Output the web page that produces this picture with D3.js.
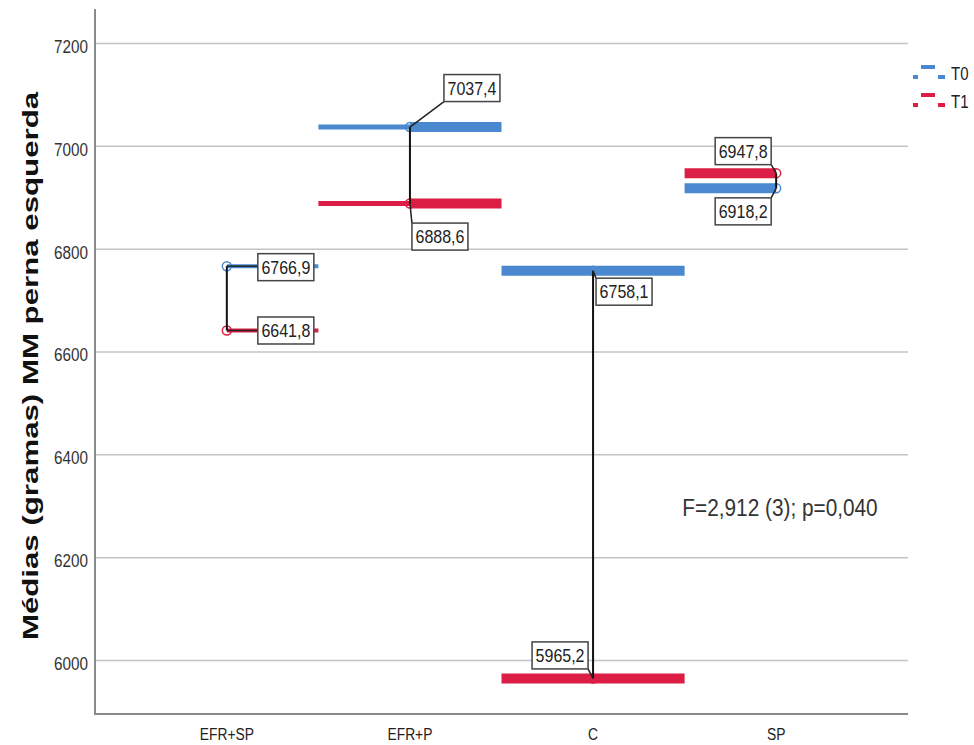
<!DOCTYPE html>
<html>
<head>
<meta charset="utf-8">
<script src="https://cdn.jsdelivr.net/npm/d3@7"></script>
<style>
  html, body { margin: 0; padding: 0; background: #fff; }
  svg { display: block; font-family: "Liberation Sans", Arial, sans-serif; }
</style>
</head>
<body>
<svg id="chart" width="974" height="745"></svg>
<script>
// Group means of left-leg lean mass (grams) at two time points
const categories = ["EFR+SP", "EFR+P", "C", "SP"];
const t0Values = [6766.9, 7037.4, 6758.1, 6918.2];
const t1Values = [6641.8, 6888.6, 5965.2, 6947.8];
const seriesNames = ["T0", "T1"];
const yTicks = [6000, 6200, 6400, 6600, 6800, 7000, 7200];
const yTitle = "Médias (gramas) MM perna esquerda";
const statText = "F=2,912 (3); p=0,040";

// ---- layout ----
const W = 974, H = 745;
const plot = { left: 95, right: 908, top: 9, bottom: 714 };
const yDomain = [5896, 7267];
const colors = { T0: "#4a89cf", T1: "#dc1d44" };
// stroke width of the left / right half of each group's horizontal mark
const halfWidths = { left: [0, 5, 10, 10], right: [4, 10, 10, 0] };
// value-box centre offsets from the point, per series then per group
const labelOffsets = {
  T0: [[59, 1], [62, -39], [31, 21], [-33, 23]],
  T1: [[59, 0], [30, 33], [-33, -23], [-33, -22]]
};
const boxW = 56, boxH = 27;
const txtK = 1.15; // vertical text stretch

const svg = d3.select("#chart");

const x = d3.scalePoint().domain(categories).range([plot.left, plot.right]).padding(0.72);
const y = d3.scaleLinear().domain(yDomain).range([plot.bottom, plot.top]);
const half = x.step() / 2;
const fmt = v => d3.format(".1f")(v).replace(".", ",");

function stretched(g, tx, ty, k, text, opts = {}) {
  const t = g.append("text")
    .attr("transform", `translate(${tx},${ty}) ${opts.rotate ? "rotate(-90) scale(" + k + ",1)" : "scale(1," + k + ")"}`)
    .attr("text-anchor", opts.anchor || "start")
    .attr("font-size", opts.size || 15)
    .attr("font-weight", opts.weight || "normal")
    .attr("fill", opts.fill || "#222")
    .text(text);
  return t;
}

// grid lines
svg.append("g").selectAll("line").data(yTicks).join("line")
  .attr("x1", plot.left).attr("x2", plot.right)
  .attr("y1", d => y(d)).attr("y2", d => y(d))
  .attr("stroke", "#c4c4c4").attr("stroke-width", 1.5);

// y axis labels
const yAxisG = svg.append("g");
yTicks.forEach(t => stretched(yAxisG, 88, y(t) + 9.5, 1.2, String(t), { anchor: "end", size: 15.3, fill: "#333" }));

// axis lines
svg.append("line").attr("x1", plot.left).attr("x2", plot.left).attr("y1", plot.top).attr("y2", plot.bottom)
  .attr("stroke", "#8a8a8a").attr("stroke-width", 2);
svg.append("line").attr("x1", plot.left - 1).attr("x2", plot.right).attr("y1", plot.bottom).attr("y2", plot.bottom)
  .attr("stroke", "#8a8a8a").attr("stroke-width", 2);

// x labels
const xAxisG = svg.append("g");
categories.forEach(c => stretched(xAxisG, x(c), 740, 1.25, c, { anchor: "middle", size: 13.8, fill: "#222" }));

// y title
stretched(svg.append("g"), 38, 366, 1.42, yTitle, { rotate: true, anchor: "middle", size: 22, weight: "bold", fill: "#111" });

const series = [
  { name: "T0", values: t0Values },
  { name: "T1", values: t1Values }
];

// markers (drawn beneath the horizontal marks)
const markG = svg.append("g");
series.forEach(s => {
  categories.forEach((c, i) => {
    markG.append("circle")
      .attr("cx", x(c)).attr("cy", y(s.values[i])).attr("r", 4.5)
      .attr("fill", "none").attr("stroke", colors[s.name]).attr("stroke-width", 1.5);
  });
});

// horizontal marks: left half and right half of each group
const barG = svg.append("g");
series.forEach(s => {
  categories.forEach((c, i) => {
    const cx = x(c), cy = y(s.values[i]);
    const lw = halfWidths.left[i], rw = halfWidths.right[i];
    if (lw > 0) barG.append("line").attr("x1", cx - half).attr("x2", cx).attr("y1", cy).attr("y2", cy)
      .attr("stroke", colors[s.name]).attr("stroke-width", lw);
    if (rw > 0) barG.append("line").attr("x1", cx).attr("x2", cx + half).attr("y1", cy).attr("y2", cy)
      .attr("stroke", colors[s.name]).attr("stroke-width", rw);
  });
});

// drop lines between T0 and T1
svg.append("g").selectAll("line").data(categories).join("line")
  .attr("x1", d => x(d)).attr("x2", d => x(d))
  .attr("y1", (d, i) => y(t0Values[i])).attr("y2", (d, i) => y(t1Values[i]))
  .attr("stroke", "#111").attr("stroke-width", 2);

// value boxes with leader lines
const labG = svg.append("g");
series.forEach(s => {
  categories.forEach((c, i) => {
    const px = x(c), py = y(s.values[i]);
    const [dx, dy] = labelOffsets[s.name][i];
    const bx = px + dx - boxW / 2, by = py + dy - boxH / 2;
    const lx = Math.max(bx, Math.min(px, bx + boxW));
    const ly = Math.max(by, Math.min(py, by + boxH));
    labG.append("line").attr("x1", px).attr("y1", py).attr("x2", lx).attr("y2", ly)
      .attr("stroke", "#222").attr("stroke-width", 1.5);
    labG.append("rect").attr("x", bx).attr("y", by).attr("width", boxW).attr("height", boxH)
      .attr("fill", "#fff").attr("stroke", "#444").attr("stroke-width", 1.5);
    stretched(labG, px + dx, py + dy + 6.5, txtK, fmt(s.values[i]), { anchor: "middle", size: 16, fill: "#222" });
  });
});

// statistic annotation
stretched(svg.append("g"), 780, 516, 1.15, statText, { anchor: "middle", size: 20.8, fill: "#333" });

// legend
const legG = svg.append("g");
series.forEach((s, i) => {
  const ly = 73 + i * 28;
  const col = colors[s.name];
  legG.append("line").attr("x1", 913).attr("x2", 918).attr("y1", ly + 4).attr("y2", ly + 4).attr("stroke", col).attr("stroke-width", 4);
  legG.append("line").attr("x1", 921).attr("x2", 935).attr("y1", ly - 6).attr("y2", ly - 6).attr("stroke", col).attr("stroke-width", 4);
  legG.append("line").attr("x1", 938).attr("x2", 945).attr("y1", ly + 4).attr("y2", ly + 4).attr("stroke", col).attr("stroke-width", 4);
  stretched(legG, 951, ly + 7, 1.25, s.name, { size: 15, fill: "#222" });
});
</script>
</body>
</html>
